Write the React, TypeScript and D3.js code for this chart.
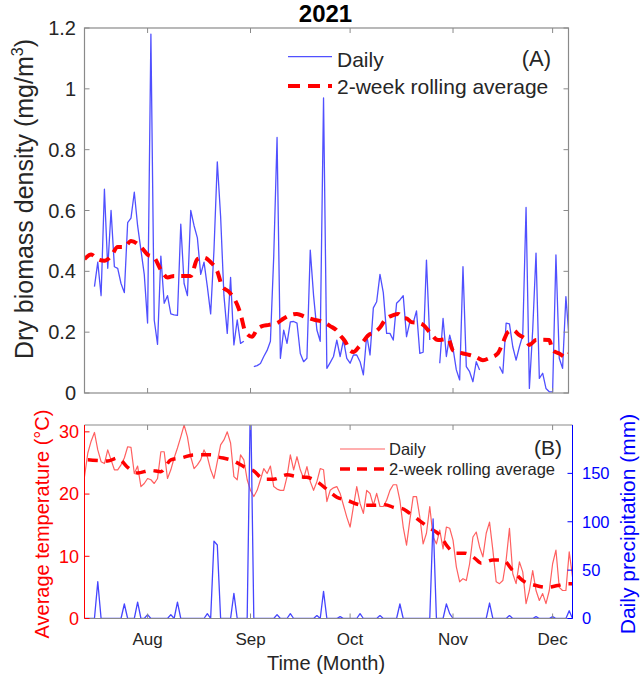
import React from 'react';
import * as d3 from 'd3';

// ---------- data ----------
const START = Date.UTC(2021, 6, 13); // day 0 = 13 Jul 2021
const DAY = 86400000;
const monthLabels = ['Aug', 'Sep', 'Oct', 'Nov', 'Dec'];
const biomassTicks = [0, 0.2, 0.4, 0.6, 0.8, 1, 1.2];
const tempTicks = [0, 10, 20, 30];
const precipTicks = [0, 50, 100, 150];

// daily dry biomass density (mg/m3), day 0..146
const biomassDaily: (number | null)[] = [
  null, null, null, 0.35, 0.43, 0.32, 0.67, 0.41, 0.60, 0.415,
  0.41, 0.36, 0.33, 0.56, 0.575, 0.66, 0.55, 0.47, 0.39, 0.23,
  1.18, 0.24, 0.16, 0.45, 0.295, 0.32, 0.26, 0.257, 0.255, 0.555,
  0.36, 0.32, 0.60, 0.55, 0.51, 0.39, 0.43, 0.35, 0.26, 0.47,
  0.76, 0.58, 0.32, 0.196, 0.38, 0.158, 0.24, 0.163, 0.17, null,
  null, 0.087, 0.09, 0.097, 0.12, 0.14, 0.17, 0.45, 0.84, 0.114,
  0.207, 0.163, 0.234, 0.235, 0.23, 0.13, 0.103, 0.114, 0.47, 0.32,
  0.207, 0.17, 0.97, 0.081, 0.10, 0.12, 0.174, 0.12, 0.174, 0.114,
  0.098, 0.125, 0.125, 0.103, 0.06, 0.19, 0.125, 0.28, 0.30, 0.39,
  0.33, 0.196, 0.196, 0.174, 0.295, 0.306, 0.32, 0.185, 0.234, 0.23,
  0.27, 0.13, 0.134, 0.437, 0.174, null, null, 0.098, 0.245, 0.12,
  0.19, 0.147, 0.076, 0.043, 0.415, 0.087, 0.07, 0.037, 0.103, 0.076,
  null, null, null, null, null, 0.087, 0.065, 0.23, 0.227, 0.152,
  0.108, 0.152, 0.19, 0.61, 0.015, 0.207, 0.46, 0.048, 0.065, 0.015,
  0.004, 0.004, 0.454, 0.114, 0.081, 0.317, 0.174,
];

// 2-week rolling average of biomass
const biomassAvgDays = [
  0, 2, 4, 6, 8, 10, 12, 14, 17, 19, 21, 23, 25, 27, 30, 32, 34, 36, 38, 40,
  41.5, 43.5, 46, 47, 48.5, 50.5, 52, 53.5, 55.5, 58, 60, 62, 64, 66.5, 69.5, 71.5, 74, 76, 77, 78.5,
  80, 81, 82.5, 84, 85.5, 87.5, 89, 90.5, 93, 94.5, 96, 97, 98.5, 100.5, 102, 104, 106.5, 109.5, 111, 114,
  116, 118, 120, 122, 124.5, 126, 127.5, 129, 131, 133, 134, 136, 138, 140, 141, 143, 145, 146,
];
const biomassAvgValues = [
  0.44, 0.455, 0.44, 0.435, 0.45, 0.48, 0.48, 0.50, 0.48, 0.455, 0.445, 0.405, 0.38, 0.385, 0.385, 0.385, 0.44, 0.445, 0.43, 0.40,
  0.35, 0.333, 0.29, 0.26, 0.20, 0.185, 0.21, 0.22, 0.224, 0.23, 0.245, 0.256, 0.26, 0.25, 0.24, 0.235, 0.22, 0.205, 0.19, 0.17,
  0.14, 0.135, 0.15, 0.17, 0.19, 0.20, 0.215, 0.24, 0.256, 0.26, 0.246, 0.245, 0.233, 0.23, 0.224, 0.20, 0.174, 0.178, 0.14, 0.13,
  0.125, 0.118, 0.108, 0.115, 0.13, 0.165, 0.20, 0.207, 0.19, 0.175, 0.158, 0.174, 0.175, 0.174, 0.14, 0.13, 0.118, 0.13,
];

// daily average temperature (°C), day 0..147
const tempDaily = [
  22.8, 26.6, 28.5, 29.9, 27.1, 25.2, 24.9, 27.1, 25.5, 23.9,
  23.9, 24.7, 25.8, 27.6, 27.5, 23.3, 24.5, 21.2, 21.7, 22.5,
  22.3, 21.7, 22.5, 26.8, 26.8, 22.5, 23.9, 25.8, 27.4, 29.2,
  31.1, 29.2, 26.0, 24.1, 24.7, 25.5, 27.1, 26.0, 23.9, 22.5,
  25.2, 27.9, 28.7, 30.0, 28.2, 22.8, 22.3, 26.3, 25.5, 22.3,
  20.6, 19.6, 20.6, 22.3, 24.1, 23.3, 24.5, 21.2, 20.8, 20.6,
  20.6, 22.8, 26.3, 23.9, 26.0, 23.9, 22.5, 24.4, 22.0, 20.6,
  22.0, 24.1, 23.9, 18.8, 20.6, 21.0, 21.2, 20.1, 18.2, 16.3,
  14.7, 18.0, 21.2, 18.5, 16.9, 20.6, 20.1, 18.2, 20.1, 18.0,
  18.0, 19.0, 20.6, 21.5, 21.5, 19.0, 14.7, 11.8, 15.8, 19.6,
  19.6, 16.3, 12.0, 13.7, 18.0, 13.1, 12.0, 14.2, 11.2, 14.7,
  14.5, 12.6, 8.3, 5.9, 6.4, 6.1, 8.8, 13.1, 13.9, 11.5,
  9.9, 13.7, 15.5, 11.0, 5.9, 5.6, 6.1, 9.4, 14.5, 7.2,
  5.6, 9.1, 7.5, 2.4, 4.5, 7.7, 4.5, 2.9, 4.0, 2.4,
  4.5, 8.8, 11.0, 5.0, 4.5, 4.5, 10.7, 6.7,
];

// 2-week rolling average of temperature
const tempAvgDays = [
  1, 4, 7, 10, 13, 16, 20, 23, 26, 29, 33, 38, 40, 45, 48, 51, 54, 57, 61, 64,
  67, 70, 74, 76, 79, 84, 87, 90.5, 93.5, 95.5, 98, 101.5, 103.5, 107.5, 109, 112, 114.5, 117.5, 119.5, 123,
  126, 129, 132, 136, 139.5, 142.5, 145.5, 147,
];
const tempAvgValues = [
  25.5, 25.4, 25.3, 25.8, 24.3, 23.4, 23.8, 23.6, 25.5, 25.8, 26.3, 26.3, 26.0, 25.3, 24.4, 23.7, 22.4, 22.4, 23.1, 22.8,
  22.7, 22.0, 20.3, 19.5, 19.0, 18.2, 18.2, 18.3, 17.8, 17.7, 16.9, 15.5, 14.7, 13.1, 11.8, 10.5, 10.5, 9.7, 8.9, 9.4,
  9.4, 7.7, 6.1, 5.3, 5.0, 5.3, 5.6, 5.6,
];

// daily precipitation (mm), day 0..147
const precipDaily = [
  0, 0, 0, 0, 38, 0, 0, 0, 0, 0,
  0, 0, 15, 0, 0, 0, 17, 0, 0, 4,
  0, 0, 0, 0, 0, 0, 4, 0, 17, 0,
  0, 0, 0, 0, 0, 0, 0, 5, 0, 80,
  76, 0, 0, 0, 0, 26, 0, 0, 0, 0,
  235, 0, 0, 0, 0, 0, 0, 0, 4, 0,
  0, 0, 5, 0, 0, 0, 0, 0, 0, 0,
  3, 0, 28, 0, 0, 0, 0, 2, 0, 0,
  0, 0, 0, 5, 0, 0, 0, 0, 0, 3,
  0, 0, 0, 0, 0, 15, 0, 0, 0, 0,
  0, 0, 0, 0, 0, 103, 0, 0, 0, 15,
  5, 0, 0, 0, 0, 0, 0, 0, 0, 0,
  0, 0, 16, 0, 0, 0, 0, 0, 3, 0,
  0, 0, 0, 0, 0, 0, 2, 0, 0, 0,
  0, 2, 0, 0, 0, 0, 8, 0,
];

// ---------- drawing ----------
const FONT = '"Liberation Sans", Arial, Helvetica, sans-serif';
const dt = (d: number) => new Date(START + d * DAY);

export default function App() {
  const W = 641, H = 675;
  // top panel
  const aL = 84.5, aR = 568.5, aT = 28, aB = 393;
  // bottom panel
  const bL = 84.5, bR = 572.5, bT = 425, bB = 618.5;

  const x1 = d3.scaleUtc().domain([dt(0), dt((aR - aL) / 3.32)]).range([aL, aR]);
  const x2 = d3.scaleUtc().domain([dt(0), dt((bR - bL) / 3.32)]).range([bL, bR]);
  const yB = d3.scaleLinear().domain([0, 1.2]).range([aB, aT]);
  const yT = d3.scaleLinear().domain([0, 31.1]).range([bB, bT]);
  const yP = d3.scaleLinear().domain([0, 200]).range([bB, bT]);

  const monthTicks = d3.utcMonth.range(dt(1), dt(147));

  const bioLine = d3.line<number | null>()
    .defined(v => v != null)
    .x((_, i) => x1(dt(i)))
    .y(v => yB(v as number));
  const bioAvgLine = d3.line<number>()
    .x((_, i) => x1(dt(biomassAvgDays[i])))
    .y(v => yB(v))
    .curve(d3.curveMonotoneX);
  const tLine = d3.line<number>().x((_, i) => x2(dt(i))).y(v => yT(v));
  const tAvgLine = d3.line<number>()
    .x((_, i) => x2(dt(tempAvgDays[i])))
    .y(v => yT(v))
    .curve(d3.curveMonotoneX);
  const pLine = d3.line<number>().x((_, i) => x2(dt(i))).y(v => yP(v));

  const axisGray = '#8a8a8a';
  const txt = '#262626';
  const tk = 5;

  return (
    <svg width={W} height={H} viewBox={`0 0 ${W} ${H}`}
      style={{ position: 'absolute', left: 0, top: 0, background: '#fff' }}
      fontFamily={FONT}>
      <defs>
        <clipPath id="clipA"><rect x={aL} y={aT} width={aR - aL} height={aB - aT} /></clipPath>
        <clipPath id="clipB"><rect x={bL} y={bT} width={bR - bL} height={bB - bT} /></clipPath>
      </defs>
      <rect x={0} y={0} width={W} height={H} fill="#fff" />

      {/* ---------- Panel A ---------- */}
      <text x={325.5} y={22} textAnchor="middle" fontSize={24} fontWeight="bold" fill="#000">2021</text>

      <g clipPath="url(#clipA)">
        <path d={bioLine(biomassDaily) || ''} fill="none" stroke="#5050ff" strokeWidth={1.3} strokeLinejoin="round" />
        <path d={bioAvgLine(biomassAvgValues) || ''} fill="none" stroke="#ff0000" strokeWidth={4} strokeDasharray="11 7" />
      </g>

      <rect x={aL} y={aT} width={aR - aL} height={aB - aT} fill="none" stroke={axisGray} strokeWidth={1.2} />
      {monthTicks.map((m, i) => (
        <g key={'ta' + i}>
          <line x1={x1(m)} x2={x1(m)} y1={aB} y2={aB - tk} stroke={axisGray} />
          <line x1={x1(m)} x2={x1(m)} y1={aT} y2={aT + tk} stroke={axisGray} />
        </g>
      ))}
      {biomassTicks.map((t, i) => (
        <g key={'ya' + i}>
          <line x1={aL} x2={aL + tk} y1={yB(t)} y2={yB(t)} stroke={axisGray} />
          <line x1={aR} x2={aR - tk} y1={yB(t)} y2={yB(t)} stroke={axisGray} />
          <text x={76} y={yB(t) + 7} textAnchor="end" fontSize={20} fill={txt}>{String(t)}</text>
        </g>
      ))}
      <text transform={`translate(33,199) rotate(-90)`} textAnchor="middle" fontSize={25} fill={txt}>
        Dry biomass density (mg/m<tspan dy={-10} fontSize={16}>3</tspan><tspan dy={10}>)</tspan>
      </text>

      {/* legend A */}
      <line x1={288} x2={332} y1={56.7} y2={56.7} stroke="#5050ff" strokeWidth={1.3} />
      <text x={337} y={66.5} fontSize={21} fill={txt}>Daily</text>
      <line x1={288} x2={332} y1={86} y2={86} stroke="#ff0000" strokeWidth={4} strokeDasharray="12 8" />
      <text x={337} y={93.5} fontSize={21} fill={txt}>2-week rolling average</text>
      <text x={551} y={66} textAnchor="end" fontSize={22} fill={txt}>(A)</text>

      {/* ---------- Panel B ---------- */}
      <g clipPath="url(#clipB)">
        <path d={tLine(tempDaily) || ''} fill="none" stroke="#ff6060" strokeWidth={1.2} strokeLinejoin="round" />
        <path d={tAvgLine(tempAvgValues) || ''} fill="none" stroke="#ff0000" strokeWidth={3.5} strokeDasharray="10 8" />
        <path d={pLine(precipDaily) || ''} fill="none" stroke="#4545ff" strokeWidth={1.3} strokeLinejoin="round" />
      </g>

      <line x1={bL} x2={bR} y1={bT} y2={bT} stroke={axisGray} strokeWidth={1.2} />
      <line x1={bL} x2={bR} y1={bB} y2={bB} stroke={axisGray} strokeWidth={1.2} />
      <line x1={bL} x2={bL} y1={bT} y2={bB} stroke="#ff0000" strokeWidth={1} />
      <line x1={bR} x2={bR} y1={bT} y2={bB} stroke="#0000ff" strokeWidth={1} />
      {monthTicks.map((m, i) => (
        <g key={'tb' + i}>
          <line x1={x2(m)} x2={x2(m)} y1={bB} y2={bB - tk} stroke={axisGray} />
          <line x1={x2(m)} x2={x2(m)} y1={bT} y2={bT + tk} stroke={axisGray} />
          <text x={x2(m)} y={645} textAnchor="middle" fontSize={17} fill={txt}>{monthLabels[i]}</text>
        </g>
      ))}
      {tempTicks.map((t, i) => (
        <g key={'yt' + i}>
          <line x1={bL} x2={bL + tk} y1={yT(t)} y2={yT(t)} stroke="#ff0000" />
          <text x={79} y={yT(t) + 6.3} textAnchor="end" fontSize={18} fill="#ff0000">{String(t)}</text>
        </g>
      ))}
      {precipTicks.map((t, i) => (
        <g key={'yp' + i}>
          <line x1={bR} x2={bR - tk} y1={yP(t)} y2={yP(t)} stroke="#0000ff" />
          <text x={582} y={yP(t) + 5.8} textAnchor="start" fontSize={16.5} fill="#0000ff">{String(t)}</text>
        </g>
      ))}
      <text transform={`translate(49,524) rotate(-90)`} textAnchor="middle" fontSize={20} fill="#ff0000">
        Average temperature (°C)
      </text>
      <text transform={`translate(635,524) rotate(-90)`} textAnchor="middle" fontSize={21} fill="#0000ff">
        Daily precipitation (mm)
      </text>
      <text x={326} y={670} textAnchor="middle" fontSize={20} fill={txt}>Time (Month)</text>

      {/* legend B */}
      <line x1={340} x2={385} y1={449} y2={449} stroke="#ff6060" strokeWidth={1.2} />
      <text x={389} y={455} fontSize={16.5} fill={txt}>Daily</text>
      <line x1={340} x2={385} y1={469} y2={469} stroke="#ff0000" strokeWidth={3.5} strokeDasharray="10 7" />
      <text x={389} y={475} fontSize={16.5} fill={txt}>2-week rolling average</text>
      <text x={562} y={455} textAnchor="end" fontSize={21} fill={txt}>(B)</text>
    </svg>
  );
}
